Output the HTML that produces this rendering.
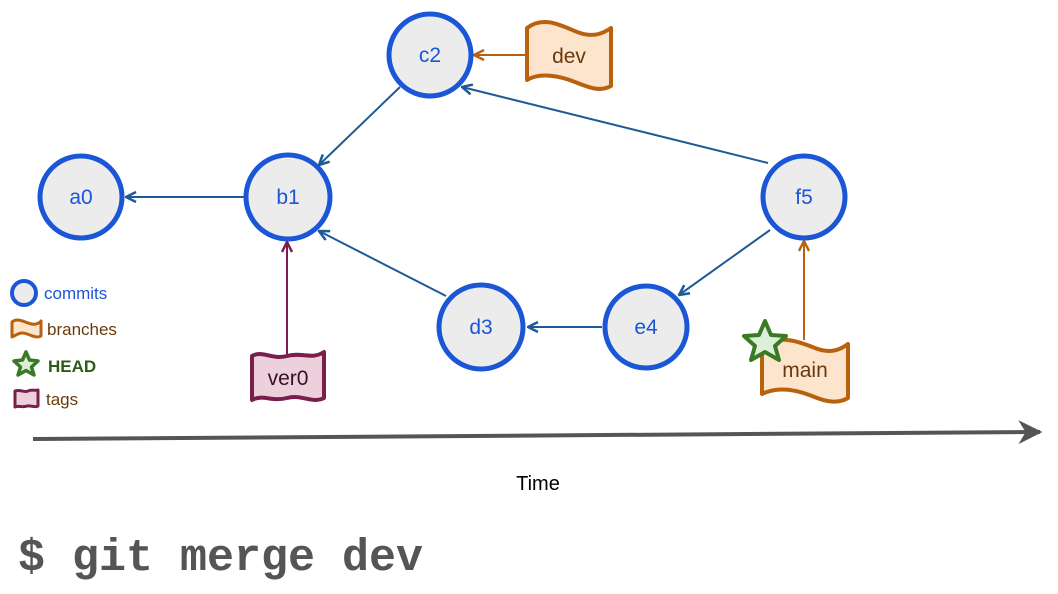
<!DOCTYPE html>
<html><head><meta charset="utf-8"><style>
html,body{margin:0;padding:0;background:#fff;}
svg{display:block;font-family:"Liberation Sans",Arial,sans-serif;}
</style></head><body>
<svg width="1058" height="594" viewBox="0 0 1058 594" xmlns="http://www.w3.org/2000/svg">
<defs>
<marker id="ab" viewBox="0 0 12 12" refX="11" refY="6" markerWidth="12" markerHeight="12" markerUnits="userSpaceOnUse" orient="auto"><path d="M1,1 L11,6 L1,11" fill="none" stroke="#1f5a96" stroke-width="2.5"/></marker>
<marker id="ao" viewBox="0 0 12 12" refX="11" refY="6" markerWidth="12" markerHeight="12" markerUnits="userSpaceOnUse" orient="auto"><path d="M1,1 L11,6 L1,11" fill="none" stroke="#b8620f" stroke-width="2.5"/></marker>
<marker id="ap" viewBox="0 0 12 12" refX="11" refY="6" markerWidth="12" markerHeight="12" markerUnits="userSpaceOnUse" orient="auto"><path d="M1,1 L11,6 L1,11" fill="none" stroke="#7a1f4d" stroke-width="2.5"/></marker>
<marker id="ag" viewBox="0 0 10 10" refX="9" refY="5" markerWidth="24" markerHeight="24" markerUnits="userSpaceOnUse" orient="auto"><path d="M0,0 L10,5 L0,10 L3,5 Z" fill="#555"/></marker>
</defs>
<g stroke="#1f5a96" stroke-width="2" fill="none">
<line x1="244" y1="197" x2="126" y2="197" marker-end="url(#ab)"/>
<line x1="400" y1="87" x2="319" y2="165" marker-end="url(#ab)"/>
<line x1="768" y1="163" x2="462" y2="87" marker-end="url(#ab)"/>
<line x1="446" y1="296" x2="319" y2="231" marker-end="url(#ab)"/>
<line x1="602" y1="327" x2="528" y2="327" marker-end="url(#ab)"/>
<line x1="770" y1="230" x2="679" y2="295" marker-end="url(#ab)"/>
</g>
<line x1="525" y1="55" x2="474" y2="55" stroke="#b8620f" stroke-width="2" marker-end="url(#ao)"/>
<line x1="804" y1="340" x2="804" y2="241" stroke="#b8620f" stroke-width="2" marker-end="url(#ao)"/>
<line x1="287" y1="354" x2="287" y2="242" stroke="#7a1f4d" stroke-width="2" marker-end="url(#ap)"/>
<g fill="#ececec" stroke="#1a56d6" stroke-width="5">
<circle cx="81" cy="197" r="41"/>
<circle cx="288" cy="197" r="42"/>
<circle cx="430" cy="55" r="41"/>
<circle cx="804" cy="197" r="41"/>
<circle cx="481" cy="327" r="42"/>
<circle cx="646" cy="327" r="41"/>
</g>
<g fill="#1a56d6" font-size="21" text-anchor="middle">
<text x="81" y="204">a0</text><text x="288" y="204">b1</text><text x="430" y="62">c2</text>
<text x="804" y="204">f5</text><text x="481" y="334">d3</text><text x="646" y="334">e4</text>
</g>
<path d="M527,28 C545,14 565,28 580,33 C595,38 605,32 611,28 L611,86 C600,92 590,88 575,82 C560,76 540,72 527,80 Z" fill="#fde4cc" stroke="#b8620f" stroke-width="4" stroke-linejoin="round"/>
<text x="569" y="63" font-size="21" fill="#6a3a0c" text-anchor="middle">dev</text>
<path d="M762,346 C780,334 800,342 815,348 C830,354 840,350 848,344 L848,398 C838,404 826,402 812,396 C797,390 778,386 762,394 Z" fill="#fde4cc" stroke="#b8620f" stroke-width="4" stroke-linejoin="round"/>
<text x="805" y="377" font-size="21" fill="#6a3a0c" text-anchor="middle">main</text>
<path d="M765,321 L771,335 L786,336 L775,346 L779,360 L765,352 L751,360 L755,346 L744,336 L759,335 Z" fill="#dcefd8" stroke="#3a7a24" stroke-width="4" stroke-linejoin="round"/>
<path d="M252,356 C262,350 272,360 287,356 C302,352 312,360 324,352 L324,398 C312,404 302,394 287,398 C272,402 262,394 252,400 Z" fill="#ecd0dc" stroke="#7a1f4d" stroke-width="4" stroke-linejoin="round"/>
<text x="288" y="385" font-size="21" fill="#3a1023" text-anchor="middle">ver0</text>
<circle cx="24" cy="293" r="12" fill="#ececec" stroke="#1a56d6" stroke-width="4"/>
<text x="44" y="299" font-size="17" fill="#1a56d6">commits</text>
<path d="M12,322 C20,316 28,326 36,324 C40,323 41,321 41,321 L41,336 C34,340 26,330 18,334 C14,336 12,337 12,337 Z" fill="#fde4cc" stroke="#b8620f" stroke-width="3" stroke-linejoin="round"/>
<text x="47" y="335" font-size="17" fill="#6a3a0c">branches</text>
<path d="M26,352 L29.5,360 L38,361 L31.5,367 L34,375 L26,370.5 L18,375 L20.5,367 L14,361 L22.5,360 Z" fill="#dcefd8" stroke="#3a7a24" stroke-width="3.5" stroke-linejoin="round"/>
<text x="48" y="372" font-size="17" fill="#2d5a16" font-weight="bold">HEAD</text>
<path d="M15,391 C20,389 25,393 28,391 C32,389 36,391 38,390 L38,406 C34,408 31,405 27,406 C22,408 19,405 15,407 Z" fill="#ecd0dc" stroke="#7a1f4d" stroke-width="3" stroke-linejoin="round"/>
<text x="46" y="405" font-size="17" fill="#6a3a0c">tags</text>
<line x1="33" y1="439" x2="1040" y2="432" stroke="#555" stroke-width="4" marker-end="url(#ag)"/>
<text x="538" y="490" font-size="20" fill="#000" text-anchor="middle">Time</text>
<text x="18" y="570" font-size="45" fill="#555" font-family="'Liberation Mono',monospace" font-weight="bold">$ git merge dev</text>
</svg>
</body></html>
